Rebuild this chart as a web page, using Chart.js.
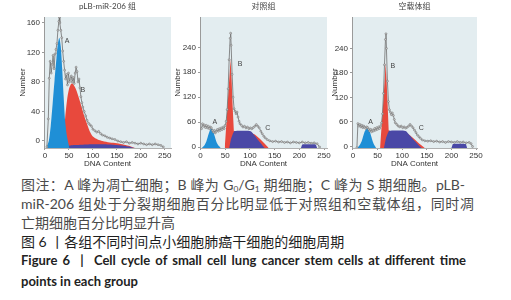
<!DOCTYPE html>
<html>
<head>
<meta charset="utf-8">
<script src="https://cdn.jsdelivr.net/npm/chart.js"></script>
<style>
  html, body { margin: 0; padding: 0; background: #fff; width: 511px; height: 300px; overflow: hidden; }
  canvas { position: absolute; top: 0; }
  .cap { position: absolute; left: 21px; white-space: nowrap; line-height: 19px; height: 19px; }
  .cn { font-family: Lato, "Noto Sans CJK SC", sans-serif; font-size: 14px; color: #4a4a4a; }
  .j { text-align: justify; text-align-last: justify; }
  .fig { color: #1e1e1e; font-weight: 400; }
  .en { font-family: Lato, sans-serif; font-weight: bold; font-size: 13px; color: #222; }
  sub { font-size: 0.6em; vertical-align: -0.2em; line-height: 0; }
</style>
</head>
<body>
<canvas id="panel1" width="178" height="170" style="left:0px"></canvas>
<canvas id="panel2" width="165" height="170" style="left:170px"></canvas>
<canvas id="panel3" width="181" height="170" style="left:330px"></canvas>

<div class="cap cn j" style="top:175px;width:444px">图注：A 峰为凋亡细胞；B 峰为 G<sub>0</sub>/G<sub>1</sub> 期细胞；C 峰为 S 期细胞。pLB-</div>
<div class="cap cn j" style="top:194px;width:453px">miR-206 组处于分裂期细胞百分比明显低于对照组和空载体组，同时凋</div>
<div class="cap cn" style="top:213px">亡期细胞百分比明显升高</div>
<div class="cap cn fig" style="top:232px">图 6 丨各组不同时间点小细胞肺癌干细胞的细胞周期</div>
<div class="cap en j" style="top:251px;width:445px">Figure 6 &nbsp;| &nbsp;Cell cycle of small cell lung cancer stem cells at different time</div>
<div class="cap en" style="top:272px">points in each group</div>

<script>
// axis ticks
const xTicks = [0, 50, 100, 150, 200, 250];
const yTicks1 = [0, 40, 80, 120, 160];
const yTicks23 = [0, 60, 120, 180, 240];

// pLB-miR-206 组
const p1GreyX = [4, 7, 9, 11, 13, 15, 17, 19, 21, 23, 25, 27, 29, 30, 31, 33, 35, 37, 39, 41, 43, 45, 47, 49, 51, 53, 55, 57, 59, 61, 63, 65, 67, 69, 71, 73, 75, 77, 79, 82, 85, 88, 91, 94, 97, 100, 104, 108, 112, 116, 120, 125, 130, 135, 140, 146, 152, 158, 164, 170, 176, 182, 188, 194, 200, 206, 212, 218, 224, 230, 236, 242, 247];
const p1GreyY = [-8, 30, 85, 108, 92, 104, 116, 98, 118, 124, 132, 150, 162, 168, 160, 150, 140, 122, 108, 96, 84, 90, 76, 92, 80, 84, 88, 80, 86, 78, 92, 100, 94, 80, 84, 72, 60, 52, 46, 40, 34, 28, 24, 22, 20, 16, 14, 12, 13, 10, 8, 7, 5, 4, 3, 2, 0, -1, -2, -1, -3, -2, -3, -4, -3, -4, -5, -4, -5, -4, -5, -6, -8];
const p1AX = [3, 8, 12, 16, 20, 24, 27, 30, 33, 36, 39, 42, 46, 51];
const p1AY = [-9.5, 0, 20, 50, 82, 112, 132, 140, 128, 98, 60, 28, 6, -9.5];
const p1BX = [38, 42, 46, 50, 54, 57, 60, 64, 68, 72, 76, 80, 85, 90, 95, 100, 110, 120, 135, 150, 165, 178, 188];
const p1BY = [-9.5, 30, 55, 70, 77, 78, 76, 71, 64, 56, 47, 38, 28, 19, 11, 6, 2, 0, -2, -3, -5, -7, -9.5];
const p1CX = [34, 45, 60, 80, 100, 120, 140, 160, 175, 186];
const p1CY = [-9.5, -7, -5.5, -5, -4.5, -4.5, -5, -6, -7.5, -9.5];
const p1Labels = [['A', 46, 136], ['B', 79, 69]];

// 对照组
const p2GreyX = [2, 4, 6, 8, 10, 12, 14, 16, 18, 20, 22, 24, 26, 28, 30, 32, 34, 36, 38, 40, 42, 44, 46, 48, 50, 52, 54, 56, 58, 60, 61, 62, 64, 66, 68, 70, 72, 74, 76, 78, 80, 83, 86, 89, 92, 95, 98, 101, 104, 107, 110, 113, 116, 119, 122, 125, 128, 131, 135, 140, 146, 152, 158, 164, 170, 176, 182, 188, 194, 200, 206, 212, 218, 224, 230, 236, 241];
const p2GreyY = [44, 56, 50, 53, 47, 52, 46, 50, 44, 48, 46, 40, 36, 40, 34, 38, 42, 38, 44, 40, 46, 42, 48, 44, 52, 62, 90, 140, 210, 262, 274, 245, 175, 120, 92, 86, 80, 84, 72, 62, 56, 52, 48, 50, 46, 48, 44, 46, 44, 47, 50, 54, 50, 46, 38, 32, 26, 22, 18, 15, 13, 14, 12, 13, 11, 12, 10, 12, 11, 10, 12, 10, 11, 9, 10, 8, 0];
const p2AX = [3, 8, 12, 15, 18, 20, 22, 24, 26, 29, 32, 36, 41];
const p2AY = [-2.4, 4, 14, 26, 37, 43, 45, 43, 37, 25, 13, 4, -2.4];
const p2BX = [49, 52, 55, 58, 61, 63, 65, 67.5, 72, 85, 100, 110, 120, 130, 138];
const p2BY = [-2.4, 50, 105, 160, 212, 160, 100, 38, 36, 36, 35, 30, 20, 8, -2.4];
const p2CX = [58, 62, 68, 80, 95, 103, 110, 117, 124, 130, 203, 206, 233, 236];
const p2CY = [-2.4, 20, 38, 39, 39, 37, 27, 16, 6, -2.4, -2.4, 6, 6, -2.4];
const p2Labels = [['A', 29, 61], ['B', 80, 199], ['C', 136, 46]];

// 空载体组
const p3GreyX = [8, 10, 12, 14, 16, 18, 20, 22, 24, 26, 28, 30, 32, 34, 36, 38, 40, 42, 44, 46, 48, 50, 52, 54, 56, 58, 60, 62, 64, 66, 67, 68, 70, 72, 74, 76, 78, 80, 82, 84, 86, 89, 92, 95, 98, 101, 104, 107, 110, 113, 116, 119, 122, 125, 128, 131, 134, 137, 141, 146, 152, 158, 164, 170, 176, 182, 188, 194, 200, 206, 212, 218, 224, 230, 236, 240, 243];
const p3GreyY = [-3, 56, 50, 54, 48, 52, 46, 50, 47, 44, 48, 46, 42, 38, 42, 36, 40, 38, 44, 40, 46, 42, 48, 44, 50, 58, 80, 130, 200, 262, 276, 240, 160, 110, 90, 84, 78, 82, 76, 66, 58, 54, 50, 48, 50, 46, 48, 45, 47, 50, 54, 50, 46, 40, 34, 28, 24, 20, 16, 14, 13, 14, 12, 13, 11, 12, 10, 12, 11, 10, 12, 10, 11, 9, 10, 7, 0];
const p3AX = [9, 14, 18, 21, 24, 27, 29, 31, 34, 37, 40, 43, 47];
const p3AY = [-3.7, 4, 14, 26, 37, 43, 45, 43, 37, 25, 13, 4, -3.7];
const p3BX = [55, 58, 61, 64, 66.5, 68.5, 70.5, 72.5, 77, 90, 106, 115, 125, 135, 146];
const p3BY = [-3.7, 48, 100, 155, 205, 155, 100, 40, 36, 36, 35, 28, 18, 7, -3.7];
const p3CX = [63, 67, 73, 85, 100, 108, 116, 124, 132, 140, 200, 203, 229, 232];
const p3CY = [-3.7, 20, 38, 39, 39, 37, 26, 15, 5, -3.7, -3.7, 6, 6, -3.7];
const p3Labels = [['A', 36, 60], ['B', 81, 196], ['C', 139, 46]];

const pts = (xs, ys) => xs.map((x, i) => ({ x: x, y: ys[i] }));
const axisFont = { family: 'Liberation Sans', size: 8 };

// light plot background
const plotBg = {
  id: 'plotBg',
  beforeDraw(chart) {
    const a = chart.chartArea, ctx = chart.ctx;
    ctx.save();
    ctx.fillStyle = '#e3edf0';
    ctx.fillRect(a.left, a.top, a.right - a.left, a.bottom - a.top);
    ctx.restore();
  }
};

// A / B / C letters next to the peaks
const peakLabels = {
  id: 'peakLabels',
  afterDatasetsDraw(chart, args, opts) {
    const ctx = chart.ctx, xs = chart.scales.x, ys = chart.scales.y;
    ctx.save();
    ctx.font = '7px "Liberation Sans"';
    ctx.fillStyle = '#444';
    ctx.textAlign = 'center';
    ctx.textBaseline = 'middle';
    opts.items.forEach(([t, x, y]) => ctx.fillText(t, xs.getPixelForValue(x), ys.getPixelForValue(y)));
    ctx.restore();
  }
};

function makePanel(id, p) {
  const ctx = document.getElementById(id).getContext('2d');
  return new Chart(ctx, {
    type: 'line',
    data: {
      datasets: [
        {
          data: pts(p.greyX, p.greyY), order: 0, fill: false,
          borderColor: '#6e6e6e', borderWidth: 0.8, tension: 0,
          pointRadius: 1, pointBorderWidth: 0.5,
          pointBackgroundColor: '#c8c8c8', pointBorderColor: '#6e6e6e'
        },
        { data: pts(p.aX, p.aY), order: 1, fill: 'start', backgroundColor: '#1f8fd6', borderWidth: 0, pointRadius: 0, tension: 0.25 },
        { data: pts(p.cX, p.cY), order: 2, fill: 'start', backgroundColor: '#4a48a6', borderWidth: 0, pointRadius: 0, tension: 0.1 },
        { data: pts(p.bX, p.bY), order: 3, fill: 'start', backgroundColor: '#e8493d', borderWidth: 0, pointRadius: 0, tension: p.bTension }
      ]
    },
    options: {
      responsive: false,
      animation: false,
      devicePixelRatio: 1,
      events: [],
      layout: { padding: { left: 0, right: p.padRight, top: 0, bottom: 0 } },
      scales: {
        x: {
          type: 'linear', min: p.xMin, max: p.xMax,
          afterBuildTicks: s => { s.ticks = xTicks.map(v => ({ value: v })); },
          afterFit: s => { s.height = 22; },
          ticks: { font: axisFont, color: '#333', padding: 1, maxRotation: 0, autoSkip: false },
          grid: { drawOnChartArea: false, tickLength: 2, color: '#9a9a9a' },
          border: { color: '#b0b0b0' },
          title: { display: true, text: 'DNA Content', font: axisFont, color: '#333', padding: { top: 0, bottom: 1.2 } }
        },
        y: {
          type: 'linear', min: p.yMin, max: p.yMax,
          afterBuildTicks: s => { s.ticks = p.yTicks.map(v => ({ value: v })); },
          afterFit: s => { s.width = p.yWidth; },
          ticks: { font: axisFont, color: '#333', padding: 2 },
          grid: { drawOnChartArea: false, tickLength: 2, color: '#9a9a9a' },
          border: { color: '#9a9a9a' },
          title: { display: true, text: 'Number', font: axisFont, color: '#333', padding: { top: p.numPad, bottom: 0 } }
        }
      },
      plugins: {
        legend: { display: false },
        tooltip: { enabled: false },
        title: {
          display: true, text: p.title, fullSize: false, color: '#444',
          font: { family: 'Lato, "Noto Sans CJK SC"', size: 8, weight: 'normal' },
          padding: { top: 2, bottom: 5.4 }
        },
        peakLabels: { items: p.labels }
      }
    },
    plugins: [plotBg, peakLabels]
  });
}

makePanel('panel1', {
  title: 'pLB-miR-206 组', greyX: p1GreyX, greyY: p1GreyY, aX: p1AX, aY: p1AY, bX: p1BX, bY: p1BY, cX: p1CX, cY: p1CY,
  labels: p1Labels, yTicks: yTicks1, xMin: -2, xMax: 263, yMin: -9.5, yMax: 168,
  yWidth: 44, padRight: 7, numPad: 18.2, bTension: 0.3
});
makePanel('panel2', {
  title: '对照组', greyX: p2GreyX, greyY: p2GreyY, aX: p2AX, aY: p2AY, bX: p2BX, bY: p2BY, cX: p2CX, cY: p2CY,
  labels: p2Labels, yTicks: yTicks23, xMin: -1, xMax: 256, yMin: -2.4, yMax: 313,
  yWidth: 30, padRight: 8, numPad: 3.2, bTension: 0
});
makePanel('panel3', {
  title: '空载体组', greyX: p3GreyX, greyY: p3GreyY, aX: p3AX, aY: p3AY, bX: p3BX, bY: p3BY, cX: p3CX, cY: p3CY,
  labels: p3Labels, yTicks: yTicks23, xMin: -2, xMax: 252, yMin: -3.7, yMax: 317,
  yWidth: 22, padRight: 34, numPad: 0.2, bTension: 0
});
</script>
</body>
</html>
